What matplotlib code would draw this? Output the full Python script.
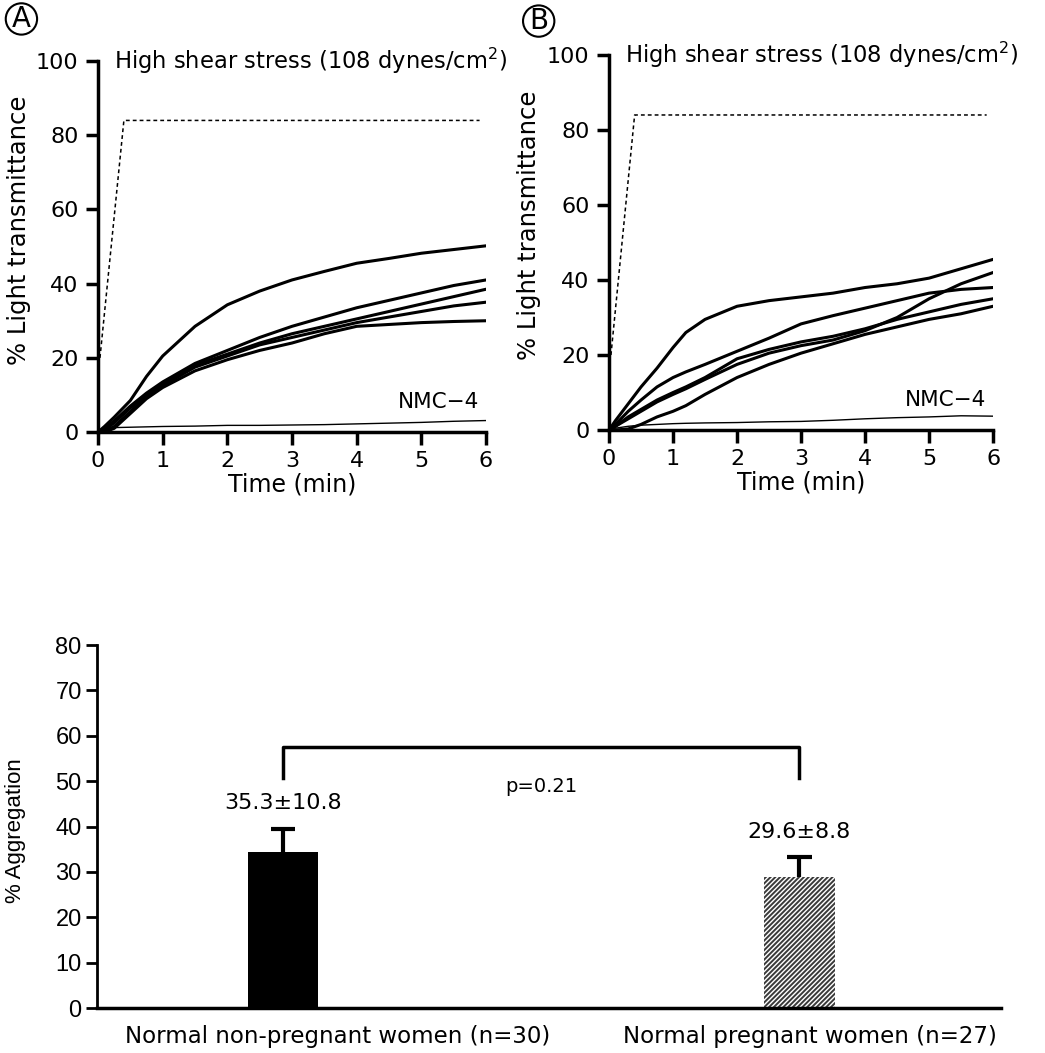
"""Shear-induced platelet aggregation: transmittance traces (A, B) and bar summary."""
import numpy as np
from matplotlib import pyplot as plt
from matplotlib import rcParams
from matplotlib.transforms import blended_transform_factory

rcParams["font.family"] = ["DejaVu Sans"]
rcParams["hatch.linewidth"] = 1.4

TIMELABEL = "Time (min)"
TRANSLABEL = "% Light transmittance"
TITLE = "High shear stress (108 dynes/cm$^{2}$)"
NMC_LABEL = "NMC\u22124"

# panel A traces (time in min, % light transmittance)
A_TIME = [0, 0.1, 0.25, 0.5, 0.75, 1, 1.5, 2, 2.5, 3, 3.5, 4, 4.5, 5, 5.5, 6]
A_CURVES = [
    [0, 1.5, 4, 8.5, 15, 20.5, 28.5, 34.3, 38, 41, 43.3, 45.5, 46.8, 48.2, 49.2, 50.2],
    [0, 1.0, 3, 7, 10.5, 13.5, 18.5, 22, 25.5, 28.5, 31, 33.5, 35.5, 37.5, 39.5, 41],
    [0, 0.5, 2.5, 6.5, 10, 13, 18, 21, 24, 26.5, 28.5, 30.5, 32.5, 34.5, 36.5, 38.5],
    [0, 0.2, 1.5, 5.5, 9.5, 12.5, 17.5, 20.5, 23.5, 25.5, 27.5, 29.5, 31, 32.5, 34, 35],
    [0, 0, 1, 5, 9, 12, 16.5, 19.5, 22, 24, 26.5, 28.5, 29, 29.5, 29.8, 30],
]
A_NMC = [0, 1, 1.2, 1.3, 1.4, 1.5, 1.6, 1.8, 1.8, 1.9, 2.0, 2.2, 2.4, 2.6, 2.9, 3.1]

# panel B traces
B_TIME = [0, 0.1, 0.3, 0.5, 0.75, 1, 1.2, 1.5, 2, 2.5, 3, 3.5, 4, 4.5, 5, 5.5, 6]
B_CURVES = [
    [0, 2.5, 7, 11.5, 16.5, 22, 26, 29.5, 33, 34.5, 35.5, 36.5, 38, 39, 40.5, 43, 45.5],
    [0, 1.5, 5, 8, 11.5, 14, 15.5, 17.5, 21, 24.5, 28.3, 30.5, 32.5, 34.5, 36.5, 37.5, 38],
    [0, 1, 3, 5, 7.5, 9.5, 11, 13.5, 17.5, 20.5, 22.5, 24, 26.5, 30, 35, 39, 42],
    [0, 1, 3.5, 5.5, 8, 10, 11.5, 14, 19, 21.5, 23.5, 25, 27, 29.5, 31.5, 33.5, 35],
    [0, 0, 0.3, 1.5, 3.5, 5, 6.5, 9.5, 14, 17.5, 20.5, 23, 25.5, 27.5, 29.5, 31, 33],
]
B_NMC = [0, 0.5, 1, 1.3, 1.5, 1.7, 1.8, 1.9, 2.0, 2.2, 2.3, 2.6, 3.0, 3.3, 3.5, 3.8, 3.7]

# dashed shear-stress reference trace
SHEAR_T = [0.03, 0.4, 5.9]
SHEAR_Y = [20, 84, 84]

# bar summary
GROUPS = ["Normal non-pregnant women (n=30)", "Normal pregnant women (n=27)"]
AGG_MEAN = [34.3, 28.9]
AGG_ERR = [5.1, 4.3]
AGG_TEXT = ["35.3\u00b110.8", "29.6\u00b18.8"]
P_TEXT = "p=0.21"

fig = plt.figure(figsize=(10.45, 10.53), dpi=100)


def trace_panel(rect, time, curves, nmc, letter, letter_xy, label_x):
    ax = fig.add_axes(rect)
    for y in curves:
        ax.plot(time, y, color="k", lw=2.2, solid_capstyle="round")
    ax.plot(time, nmc, color="k", lw=1.0)
    ax.plot(SHEAR_T, SHEAR_Y, color="k", lw=1.1, ls=(0, (2.5, 2)))
    ax.set_xlim(0, 6)
    ax.set_ylim(0, 100)
    ax.set_xticks(range(7))
    ax.set_yticks([0, 20, 40, 60, 80, 100])
    ax.spines[["top", "right"]].set_visible(False)
    for s in ("left", "bottom"):
        ax.spines[s].set_linewidth(2.5)
    ax.tick_params(width=2.5, length=9, labelsize=16, pad=5)
    ax.set_xlabel(TIMELABEL, fontsize=17, labelpad=1)
    ax.set_ylabel(TRANSLABEL, fontsize=17.5)
    ax.yaxis.set_label_coords(label_x, 0.545)
    ax.text(0.25, 100, TITLE, fontsize=16.3, ha="left", va="center")
    ax.text(5.9, 8, NMC_LABEL, fontsize=15.5, ha="right", va="center")
    fig.text(
        *letter_xy,
        letter,
        fontsize=20,
        ha="center",
        va="center",
        bbox=dict(boxstyle="circle,pad=0.06", fc="w", ec="k", lw=1.5),
    )
    return ax


trace_panel([0.0938, 0.5897, 0.3713, 0.3523], A_TIME, A_CURVES, A_NMC, "A",
            (0.0205, 0.982), -0.172)
trace_panel([0.5828, 0.5916, 0.3675, 0.3562], B_TIME, B_CURVES, B_NMC, "B",
            (0.5155, 0.980), -0.176)

# bar chart
ax = fig.add_axes([0.0928, 0.0427, 0.865, 0.3447])
x = np.arange(len(GROUPS))
top = np.add(AGG_MEAN, AGG_ERR)
ax.bar(x[0], AGG_MEAN[0], width=0.137, color="k", edgecolor="k", lw=0)
ax.bar(
    x[1], AGG_MEAN[1], width=0.137, color="w", edgecolor="#3a3a3a", lw=0, hatch="///////"
)
ax.vlines(x, AGG_MEAN, top, color="k", lw=3)
ax.hlines(top, x - 0.024, x + 0.024, color="k", lw=3)
ax.set_xlim(-0.36, 1.39)
ax.set_ylim(0, 80)
ax.set_yticks(range(0, 81, 10))
ax.set_xticks([])
# group labels sit slightly right of the bars, as in the original
trans = blended_transform_factory(ax.transData, ax.transAxes)
for xi, name, shift in zip(x, GROUPS, [0.105, 0.02]):
    ax.text(xi + shift, -0.078, name, fontsize=16.5, ha="center", va="center",
            transform=trans)
ax.tick_params(axis="y", width=2, length=8, labelsize=17, pad=3)
for lbl in ax.get_yticklabels():
    lbl.set_family("Liberation Sans")
ax.spines[["top", "right"]].set_visible(False)
ax.spines["left"].set_linewidth(2)
ax.spines["bottom"].set_linewidth(2.5)
ax.set_ylabel("% Aggregation", fontsize=16, family="Liberation Sans")
ax.yaxis.set_label_coords(-0.078, 0.49)
# significance bracket
ax.plot([x[0], x[0], x[1], x[1]], [50.7, 57.5, 57.5, 50.7], color="k", lw=2.5)
ax.text(0.5, 48.8, P_TEXT, fontsize=14, ha="center", va="center")
ax.text(x[0], 45.2, AGG_TEXT[0], fontsize=16, ha="center", va="center")
ax.text(x[1], 38.8, AGG_TEXT[1], fontsize=16, ha="center", va="center")

fig.savefig("out.png", dpi=100)
